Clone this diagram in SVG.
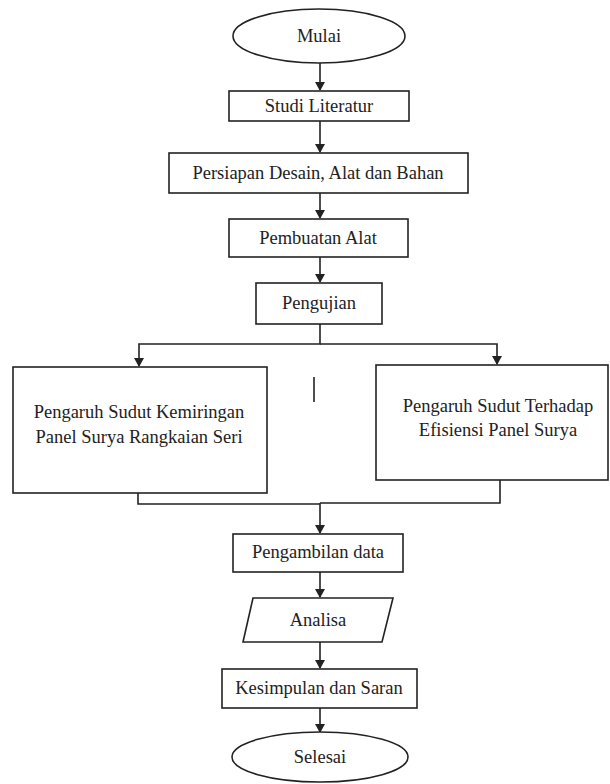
<svg xmlns="http://www.w3.org/2000/svg" width="610" height="784" viewBox="0 0 610 784">
<style>
.s{fill:#fff;stroke:#222;stroke-width:1.6}
.t{font-family:'Liberation Serif','DejaVu Serif',serif;font-size:18.5px;fill:#222;text-anchor:middle}
.c{fill:none;stroke:#222;stroke-width:1.6}
</style>
<defs>
<marker id="a" markerWidth="10" markerHeight="10" refX="8" refY="5" orient="auto" markerUnits="userSpaceOnUse">
<path d="M0,0 L9,5 L0,10 Z" fill="#222"/>
</marker>
</defs>
<rect width="610" height="784" fill="#fff"/>
<g id="connectors">
<line class="c" x1="320" y1="63" x2="320" y2="90" marker-end="url(#a)"/>
<line class="c" x1="320" y1="121" x2="320" y2="152" marker-end="url(#a)"/>
<line class="c" x1="320" y1="193" x2="320" y2="218" marker-end="url(#a)"/>
<line class="c" x1="320" y1="257" x2="320" y2="282" marker-end="url(#a)"/>
<polyline class="c" points="320,324 320,344 139,344 139,366" marker-end="url(#a)"/>
<polyline class="c" points="320,344 497,344 497,364" marker-end="url(#a)"/>
<polyline class="c" points="138,493 138,504 320,504"/>
<polyline class="c" points="500,480 500,503 320,503"/>
<line class="c" x1="320" y1="503" x2="320" y2="533" marker-end="url(#a)"/>
<line class="c" x1="320" y1="572" x2="320" y2="597" marker-end="url(#a)"/>
<line class="c" x1="320" y1="642" x2="320" y2="668" marker-end="url(#a)"/>
<line class="c" x1="320" y1="708" x2="320" y2="732" marker-end="url(#a)"/>
<line class="c" x1="314" y1="377" x2="314" y2="402"/>
</g>
<g id="mulai">
<ellipse class="s" cx="319" cy="36" rx="86" ry="27"/>
<text class="t" x="319" y="42">Mulai</text>
</g>
<g id="studi">
<rect class="s" x="229" y="91" width="180" height="30"/>
<text class="t" x="319" y="112">Studi Literatur</text>
</g>
<g id="persiapan">
<rect class="s" x="169" y="153" width="299" height="40"/>
<text class="t" x="318" y="179">Persiapan Desain, Alat dan Bahan</text>
</g>
<g id="pembuatan">
<rect class="s" x="229" y="219" width="179" height="38"/>
<text class="t" x="318" y="244">Pembuatan Alat</text>
</g>
<g id="pengujian">
<rect class="s" x="256" y="283" width="126" height="41"/>
<text class="t" x="319" y="309">Pengujian</text>
</g>
<g id="kemiringan">
<rect class="s" x="13" y="367" width="254" height="126"/>
<text class="t" x="139" y="418">Pengaruh Sudut Kemiringan</text>
<text class="t" x="139" y="443">Panel Surya Rangkaian Seri</text>
</g>
<g id="efisiensi">
<rect class="s" x="376" y="365" width="232" height="115"/>
<text class="t" x="498" y="412">Pengaruh Sudut Terhadap</text>
<text class="t" x="498" y="436">Efisiensi Panel Surya</text>
</g>
<g id="pengambilan">
<rect class="s" x="233" y="534" width="170" height="38"/>
<text class="t" x="318" y="558">Pengambilan data</text>
</g>
<g id="analisa">
<polygon class="s" points="253,598 393,598 382,642 243,642"/>
<text class="t" x="318" y="626">Analisa</text>
</g>
<g id="kesimpulan">
<rect class="s" x="222" y="669" width="195" height="39"/>
<text class="t" x="319" y="694">Kesimpulan dan Saran</text>
</g>
<g id="selesai">
<ellipse class="s" cx="320" cy="757" rx="88" ry="25"/>
<text class="t" x="320" y="763">Selesai</text>
</g>
</svg>
